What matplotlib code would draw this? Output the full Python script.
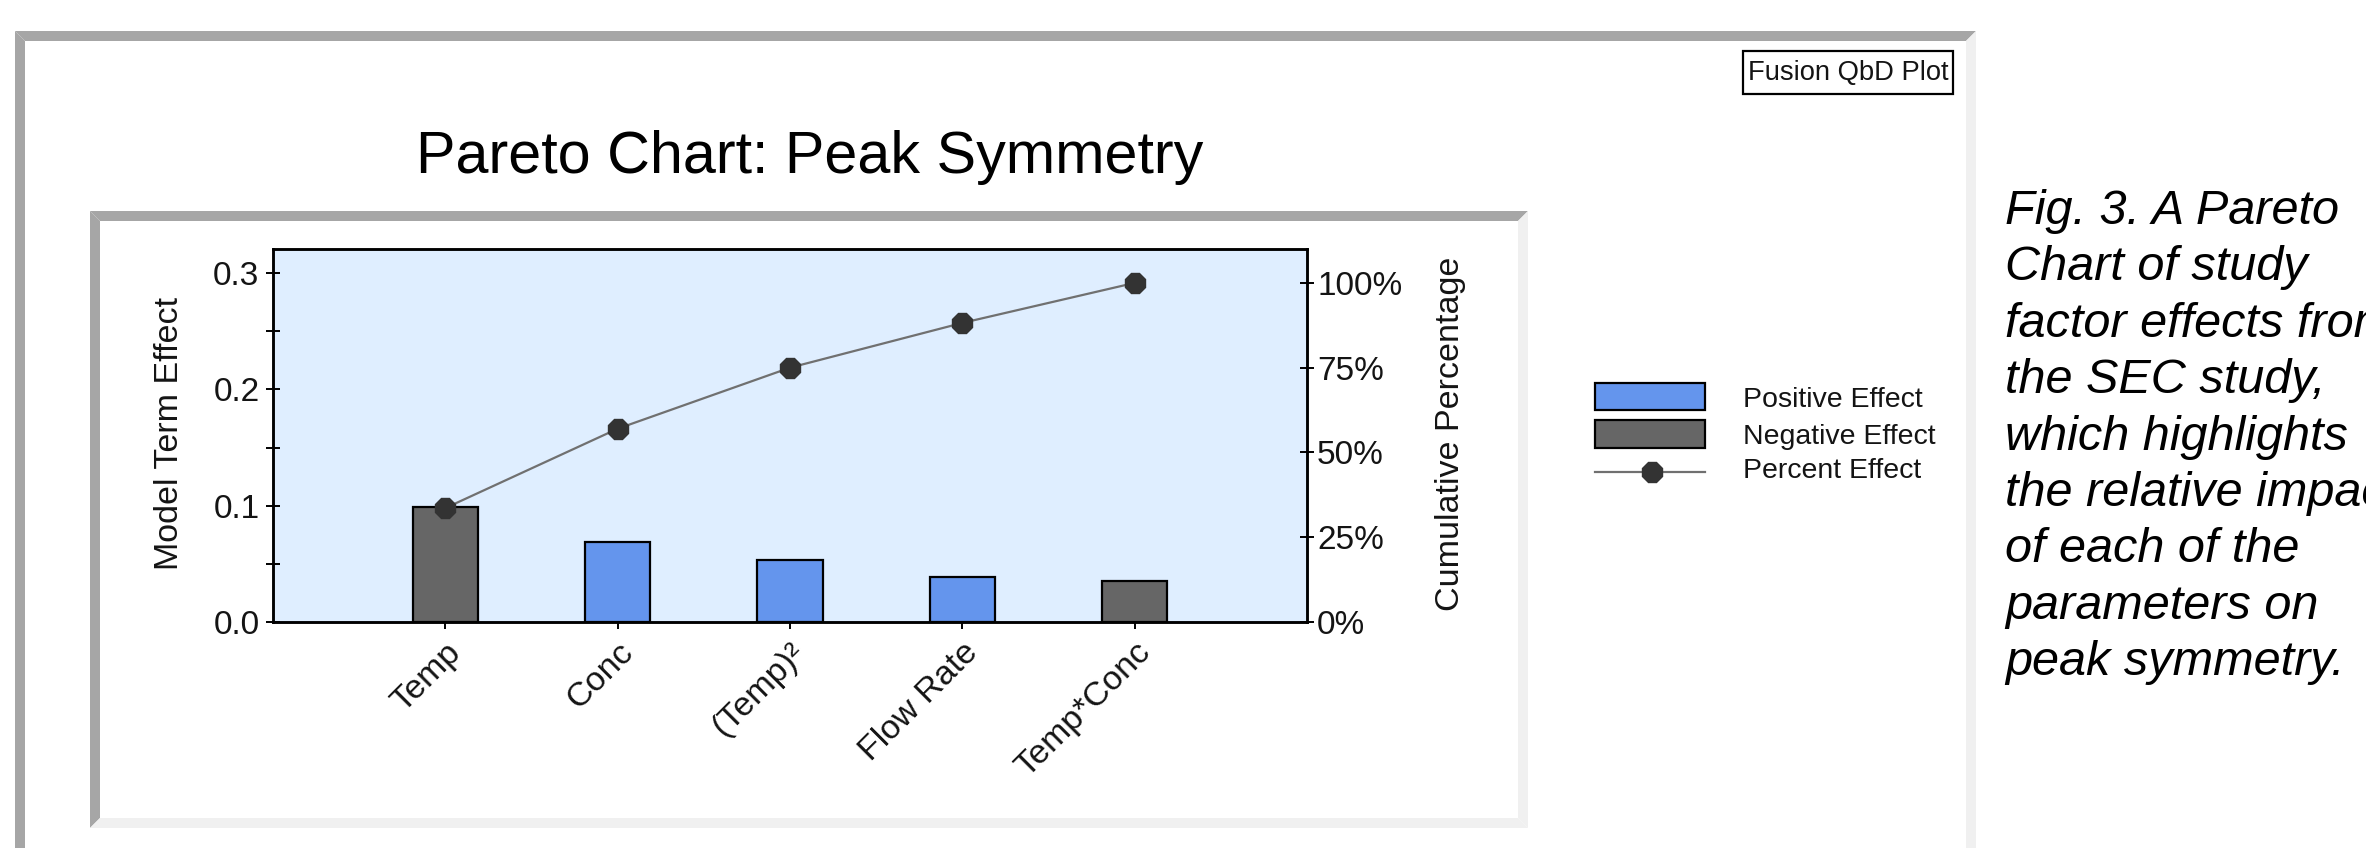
import matplotlib
matplotlib.use("Agg")
import matplotlib.pyplot as plt
import matplotlib.transforms as mtransforms
from matplotlib.patches import Polygon, Rectangle
from matplotlib.lines import Line2D
from matplotlib.ticker import FixedLocator, MultipleLocator, FuncFormatter
from matplotlib import font_manager

# ---- data -------------------------------------------------------------
terms = ["Temp", "Conc", "(Temp)\u00b2", "Flow Rate", "Temp*Conc"]
effects = [0.099, 0.069, 0.053, 0.039, 0.035]
effect_sign = ["neg", "pos", "pos", "pos", "neg"]
cumulative_pct = [33.6, 57.0, 75.0, 88.2, 100.0]
left_ticks = [0.0, 0.1, 0.2, 0.3]
right_ticks = [0, 25, 50, 75, 100]
legend_labels = ["Positive Effect", "Negative Effect", "Percent Effect"]
chart_title = "Pareto Chart: Peak Symmetry"
badge_text = "Fusion QbD Plot"
caption_lines = [
    "Fig. 3. A Pareto",
    "Chart of study",
    "factor effects from",
    "the SEC study,",
    "which highlights",
    "the relative impact",
    "of each of the",
    "parameters on",
    "peak symmetry.",
]

# ---- style ------------------------------------------------------------
POS = "#6495ed"
NEG = "#666666"
PLOT_BG = "#dfeeff"
FRAME_DARK = "#a6a6a6"
FRAME_LIGHT = "#f0f0f0"
TXT = "#141414"

plt.rcParams["font.family"] = ["Liberation Sans", "DejaVu Sans"]
_installed = {f.name for f in font_manager.fontManager.ttflist}
HAS_NARROW = "Liberation Sans Narrow" in _installed


def narrow(size):
    """Condensed face for the title and badge, if present."""
    if HAS_NARROW:
        return dict(family=["Liberation Sans Narrow", "DejaVu Sans"], fontsize=size)
    return dict(family=["Liberation Sans", "DejaVu Sans"], fontsize=size * 0.82)


W, H = 2366, 848
fig = plt.figure(figsize=(W / 100, H / 100), dpi=100, facecolor="white")

# pixel-space canvas for the frames, badge and legend
bg = fig.add_axes([0, 0, 1, 1], zorder=0)
bg.set_xlim(0, W)
bg.set_ylim(H, 0)
bg.axis("off")


def bevel_frame(l, t, r, b, w, bottom=True):
    bg.add_patch(Polygon([(l, t), (r, t), (r - w, t + w), (l + w, t + w)],
                         closed=True, fc=FRAME_DARK, ec="none"))
    bg.add_patch(Polygon([(l, t), (l + w, t + w), (l + w, b - w), (l, b)],
                         closed=True, fc=FRAME_DARK, ec="none"))
    bg.add_patch(Polygon([(r, t), (r, b), (r - w, b - w), (r - w, t + w)],
                         closed=True, fc=FRAME_LIGHT, ec="none"))
    if bottom:
        bg.add_patch(Polygon([(l, b), (r, b), (r - w, b - w), (l + w, b - w)],
                             closed=True, fc=FRAME_LIGHT, ec="none"))


bevel_frame(15, 31, 1976, 880, 10, bottom=False)
bevel_frame(90, 211, 1528, 828, 10)

# badge in the top-right corner
bg.add_patch(Rectangle((1743, 51), 210, 43, fill=False, ec="black", lw=1.6))
bg.text(1848, 73, badge_text, ha="center", va="center", color=TXT, **narrow(24))

# title
fig.text(809.5 / W, 1 - 173 / H, chart_title, ha="center", va="baseline",
         color="black", **narrow(52))


def px_rect(l, t, r, b):
    return [l / W, 1 - b / H, (r - l) / W, (b - t) / H]


# ---- main plot ------------------------------------------------------------
ax = fig.add_axes(px_rect(273, 249, 1307, 622), zorder=2)
ax.set_facecolor(PLOT_BG)
xpos = list(range(len(terms)))
bar_colors = [POS if s == "pos" else NEG for s in effect_sign]
ax.bar(xpos, effects, width=0.38, color=bar_colors, edgecolor="black",
       linewidth=1.6, zorder=2)
ax.set_xlim(-1, 5)
ax.set_ylim(0, 0.3207)
ax.yaxis.set_major_locator(FixedLocator(left_ticks))
ax.yaxis.set_minor_locator(MultipleLocator(0.05))
ax.yaxis.set_major_formatter(FuncFormatter(lambda v, p: f"{v:.1f}"))
ax.tick_params(axis="y", which="both", direction="inout", length=9.5,
               width=1.4, labelsize=24, pad=5, labelcolor=TXT)
ax.set_xticks(xpos)
ax.set_xticklabels([])
ax.tick_params(axis="x", direction="out", length=5, width=1.4)

ax2 = ax.twinx()
ax2.set_ylim(0, 110)
ax2.yaxis.set_major_locator(FixedLocator(right_ticks))
ax2.yaxis.set_major_formatter(FuncFormatter(lambda v, p: f"{v:.0f}%"))
ax2.tick_params(axis="y", direction="inout", length=9.5, width=1.4,
                labelsize=24, pad=2.5, labelcolor=TXT)
ax2.plot(xpos, cumulative_pct, color="#707070", lw=1.6, marker="8", ms=15,
         mfc="#333333", mec="#333333", zorder=3)

for a in (ax, ax2):
    for sp in a.spines.values():
        sp.set_linewidth(1.8)
        sp.set_color("black")

ax.set_ylabel("Model Term Effect", fontsize=24.5, color=TXT, va="center")
ax.yaxis.set_label_coords((170 - 273) / 1034, 0.505)
ax2.set_ylabel("Cumulative Percentage", fontsize=24.5, color=TXT,
               rotation=90, va="center")
ax2.yaxis.set_label_coords((1450 - 273) / 1034, 0.505)

# rotated category labels under the ticks
lab_tr = mtransforms.blended_transform_factory(ax.transData, ax.transAxes) + \
    mtransforms.ScaledTranslation(11 / 100, -26 / 100, fig.dpi_scale_trans)
for i, t in enumerate(terms):
    ax.text(i, 0, t, transform=lab_tr, rotation=45, rotation_mode="anchor",
            ha="right", va="center", fontsize=24.5, color=TXT)

# ---- legend -----------------------------------------------------------
bg.add_patch(Rectangle((1595, 383), 110, 27, fc=POS, ec="black", lw=1.6))
bg.add_patch(Rectangle((1595, 420), 110, 28, fc=NEG, ec="black", lw=1.6))
bg.add_line(Line2D([1595, 1705], [472, 472], color="#707070", lw=1.6))
bg.add_line(Line2D([1652], [472], marker="8", ms=15, color="#333333", lw=0))
for lbl, yc in zip(legend_labels, [400, 437, 471]):
    bg.text(1743, yc, lbl, ha="left", va="center", fontsize=20.5, color=TXT)

# ---- caption beside the chart -----------------------------------------
for k, line in enumerate(caption_lines):
    fig.text(2005 / W, 1 - (224 + 56.4 * k) / H, line, ha="left",
             va="baseline", fontsize=35, style="italic", color="black")

fig.savefig("out.png", dpi=100, facecolor="white")
